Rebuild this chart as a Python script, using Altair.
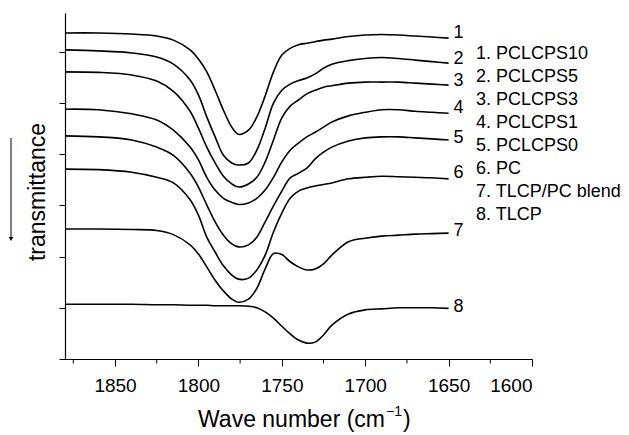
import altair as alt
import pandas as pd

# ---- data ----
wavenumbers = [1880, 1860, 1840, 1825, 1815, 1805, 1800, 1795, 1790, 1785, 1780, 1776,
               1770, 1765, 1760, 1755, 1750, 1745, 1740, 1735, 1730, 1725, 1720, 1710,
               1700, 1690, 1680, 1670, 1660, 1650]

c1 = [63.7, 63.7, 63.5, 63.1, 62.3, 60.4, 58.6, 56.1, 52.5, 48.6, 45.3, 43.9, 44.7, 47.3, 51.4,
      56.1, 59.4, 60.7, 61.4, 61.7, 62.0, 62.3, 62.5, 63.0, 63.3, 63.4, 63.3, 63.1, 62.9, 62.7]
c2 = [60.4, 60.2, 59.8, 59.0, 57.6, 54.5, 51.6, 47.3, 43.4, 39.8, 38.3, 37.9, 38.3, 40.8, 45.1,
      50.0, 52.5, 53.7, 54.4, 54.9, 55.7, 56.8, 57.6, 58.3, 58.7, 58.9, 58.7, 58.4, 58.1, 57.8]
c3 = [56.1, 56.0, 55.5, 54.3, 52.3, 48.4, 45.1, 41.4, 38.3, 35.7, 34.2, 33.6, 34.2, 35.5, 38.5,
      42.8, 47.1, 49.4, 50.6, 51.8, 52.5, 53.1, 53.4, 53.9, 54.1, 54.1, 54.1, 53.9, 53.7, 53.5]
c4 = [48.8, 48.7, 47.9, 46.7, 44.7, 41.4, 38.9, 35.5, 33.0, 31.4, 30.6, 30.2, 30.5, 31.4, 33.0,
      35.5, 38.5, 40.8, 42.2, 43.4, 44.3, 45.3, 46.3, 47.5, 48.2, 48.7, 48.7, 48.4, 48.2, 48.0]
c5 = [43.6, 43.4, 42.8, 41.4, 39.8, 36.3, 33.6, 30.1, 26.8, 24.2, 22.5, 21.9, 22.3, 23.8, 26.8,
      29.9, 32.8, 35.4, 36.3, 37.3, 39.1, 40.4, 41.4, 42.6, 43.2, 43.4, 43.4, 43.2, 43.0, 42.8]
c6 = [37.1, 37.0, 36.5, 35.5, 34.4, 31.1, 28.1, 23.8, 20.9, 18.2, 16.4, 15.6, 15.8, 17.4, 20.3,
      24.8, 28.5, 31.4, 32.8, 33.4, 33.8, 34.1, 34.4, 35.2, 35.5, 35.7, 35.6, 35.5, 35.4, 35.2]
c7 = [25.4, 25.4, 25.3, 25.1, 24.3, 22.3, 20.5, 18.0, 15.4, 13.3, 11.7, 11.1, 11.7, 13.8, 17.6,
      20.6, 20.4, 19.0, 18.0, 17.4, 17.6, 18.6, 20.3, 22.9, 23.6, 24.0, 24.2, 24.4, 24.5, 24.6]
c8 = [10.7, 10.7, 10.7, 10.6, 10.6, 10.5, 10.5, 10.5, 10.4, 10.4, 10.4, 10.4, 10.3, 10.0, 9.2,
      8.0, 6.4, 4.9, 3.7, 3.1, 3.3, 4.7, 6.6, 8.8, 9.6, 9.8, 10.0, 10.0, 10.0, 9.9]

curves = [c1, c2, c3, c4, c5, c6, c7, c8]
series_names = ["1", "2", "3", "4", "5", "6", "7", "8"]
label_y = [63.7, 58.6, 54.3, 49.0, 43.2, 36.3, 25.0, 10.2]
label_x = 1647
legend_lines = ["1. PCLCPS10", "2. PCLCPS5", "3. PCLCPS3", "4. PCLCPS1",
                "5. PCLCPS0", "6. PC", "7. TLCP/PC blend", "8. TLCP"]
x_ticks = [1850, 1800, 1750, 1700, 1650, 1600]
x_minor = [1875, 1825, 1775, 1725, 1675, 1625]
y_ticks = [0, 10, 20, 30, 40, 50, 60]

rows = []
for name, vals in zip(series_names, curves):
    for i, (w, v) in enumerate(zip(wavenumbers, vals)):
        rows.append({"series": name, "wn": w, "t": v, "i": i})
df = pd.DataFrame(rows)
lab_df = pd.DataFrame({"name": series_names, "y": label_y, "x": [label_x] * len(series_names)})
minor_df = pd.DataFrame({"wn": x_minor})

FONT = "Liberation Sans"
xscale = alt.Scale(domain=[1600, 1880], reverse=True, nice=False, zero=False)
yscale = alt.Scale(domain=[0, 67.6], nice=False, zero=False)

lines = alt.Chart(df).mark_line(color="black", strokeWidth=1.6, interpolate="catmull-rom").encode(
    x=alt.X("wn:Q", scale=xscale,
            axis=alt.Axis(values=x_ticks, title=None, grid=False, tickSize=7, tickColor="black",
                          tickWidth=1, domainColor="black", domainWidth=1.2, labelFont=FONT,
                          labelFontSize=19, labelColor="black", labelPadding=10, format="d")),
    y=alt.Y("t:Q", scale=yscale,
            axis=alt.Axis(values=y_ticks, labels=False, title=None, grid=False, tickSize=6,
                          tickColor="black", tickWidth=1, domainColor="black", domainWidth=1.2)),
    detail="series:N",
    order="i:Q",
)

labels = alt.Chart(lab_df).mark_text(align="left", baseline="middle", font=FONT, fontSize=18,
                                     color="black").encode(
    x=alt.X("x:Q", scale=xscale), y=alt.Y("y:Q", scale=yscale), text="name:N")

minor = alt.Chart(minor_df).mark_rule(color="black", strokeWidth=1).encode(
    x=alt.X("wn:Q", scale=xscale), y=alt.value(346), y2=alt.value(350.5))

blank = alt.Data(values=[{}])

legend = alt.Chart(blank).mark_text(text=legend_lines, align="left", baseline="top", font=FONT,
                                    fontSize=18, lineHeight=23, color="black").encode(
    x=alt.value(411), y=alt.value(32))

ytitle = alt.Chart(blank).mark_text(text="transmittance", angle=270, align="center",
                                    baseline="alphabetic", font=FONT, fontSize=23,
                                    color="black").encode(x=alt.value(-20), y=alt.value(179))

arrow_line = alt.Chart(blank).mark_rule(color="black", strokeWidth=1).encode(
    x=alt.value(-54), y=alt.value(125), y2=alt.value(226))
arrow_head = alt.Chart(blank).mark_point(shape="triangle-down", filled=True, size=22,
                                         color="black", opacity=1).encode(
    x=alt.value(-54), y=alt.value(226))

xtitle_main = alt.Chart(blank).mark_text(text="Wave number (cm", align="left",
                                         baseline="alphabetic", font=FONT, fontSize=23,
                                         color="black").encode(x=alt.value(133), y=alt.value(414))
xtitle_sup = alt.Chart(blank).mark_text(text="\u22121", align="left", baseline="alphabetic",
                                        font=FONT, fontSize=14, color="black").encode(
    x=alt.value(321), y=alt.value(403))
xtitle_end = alt.Chart(blank).mark_text(text=")", align="left", baseline="alphabetic", font=FONT,
                                        fontSize=23, color="black").encode(
    x=alt.value(338), y=alt.value(414))

chart = alt.layer(lines, labels, minor, legend, ytitle, arrow_line, arrow_head,
                  xtitle_main, xtitle_sup, xtitle_end).properties(
    width=467, height=346,
    autosize=alt.AutoSizeParams(type="none"),
    padding={"left": 65, "top": 13, "right": 97, "bottom": 76},
    background="white",
).configure_view(stroke=None)

chart.save("out.html", embed_options={"renderer": "svg", "actions": False})
